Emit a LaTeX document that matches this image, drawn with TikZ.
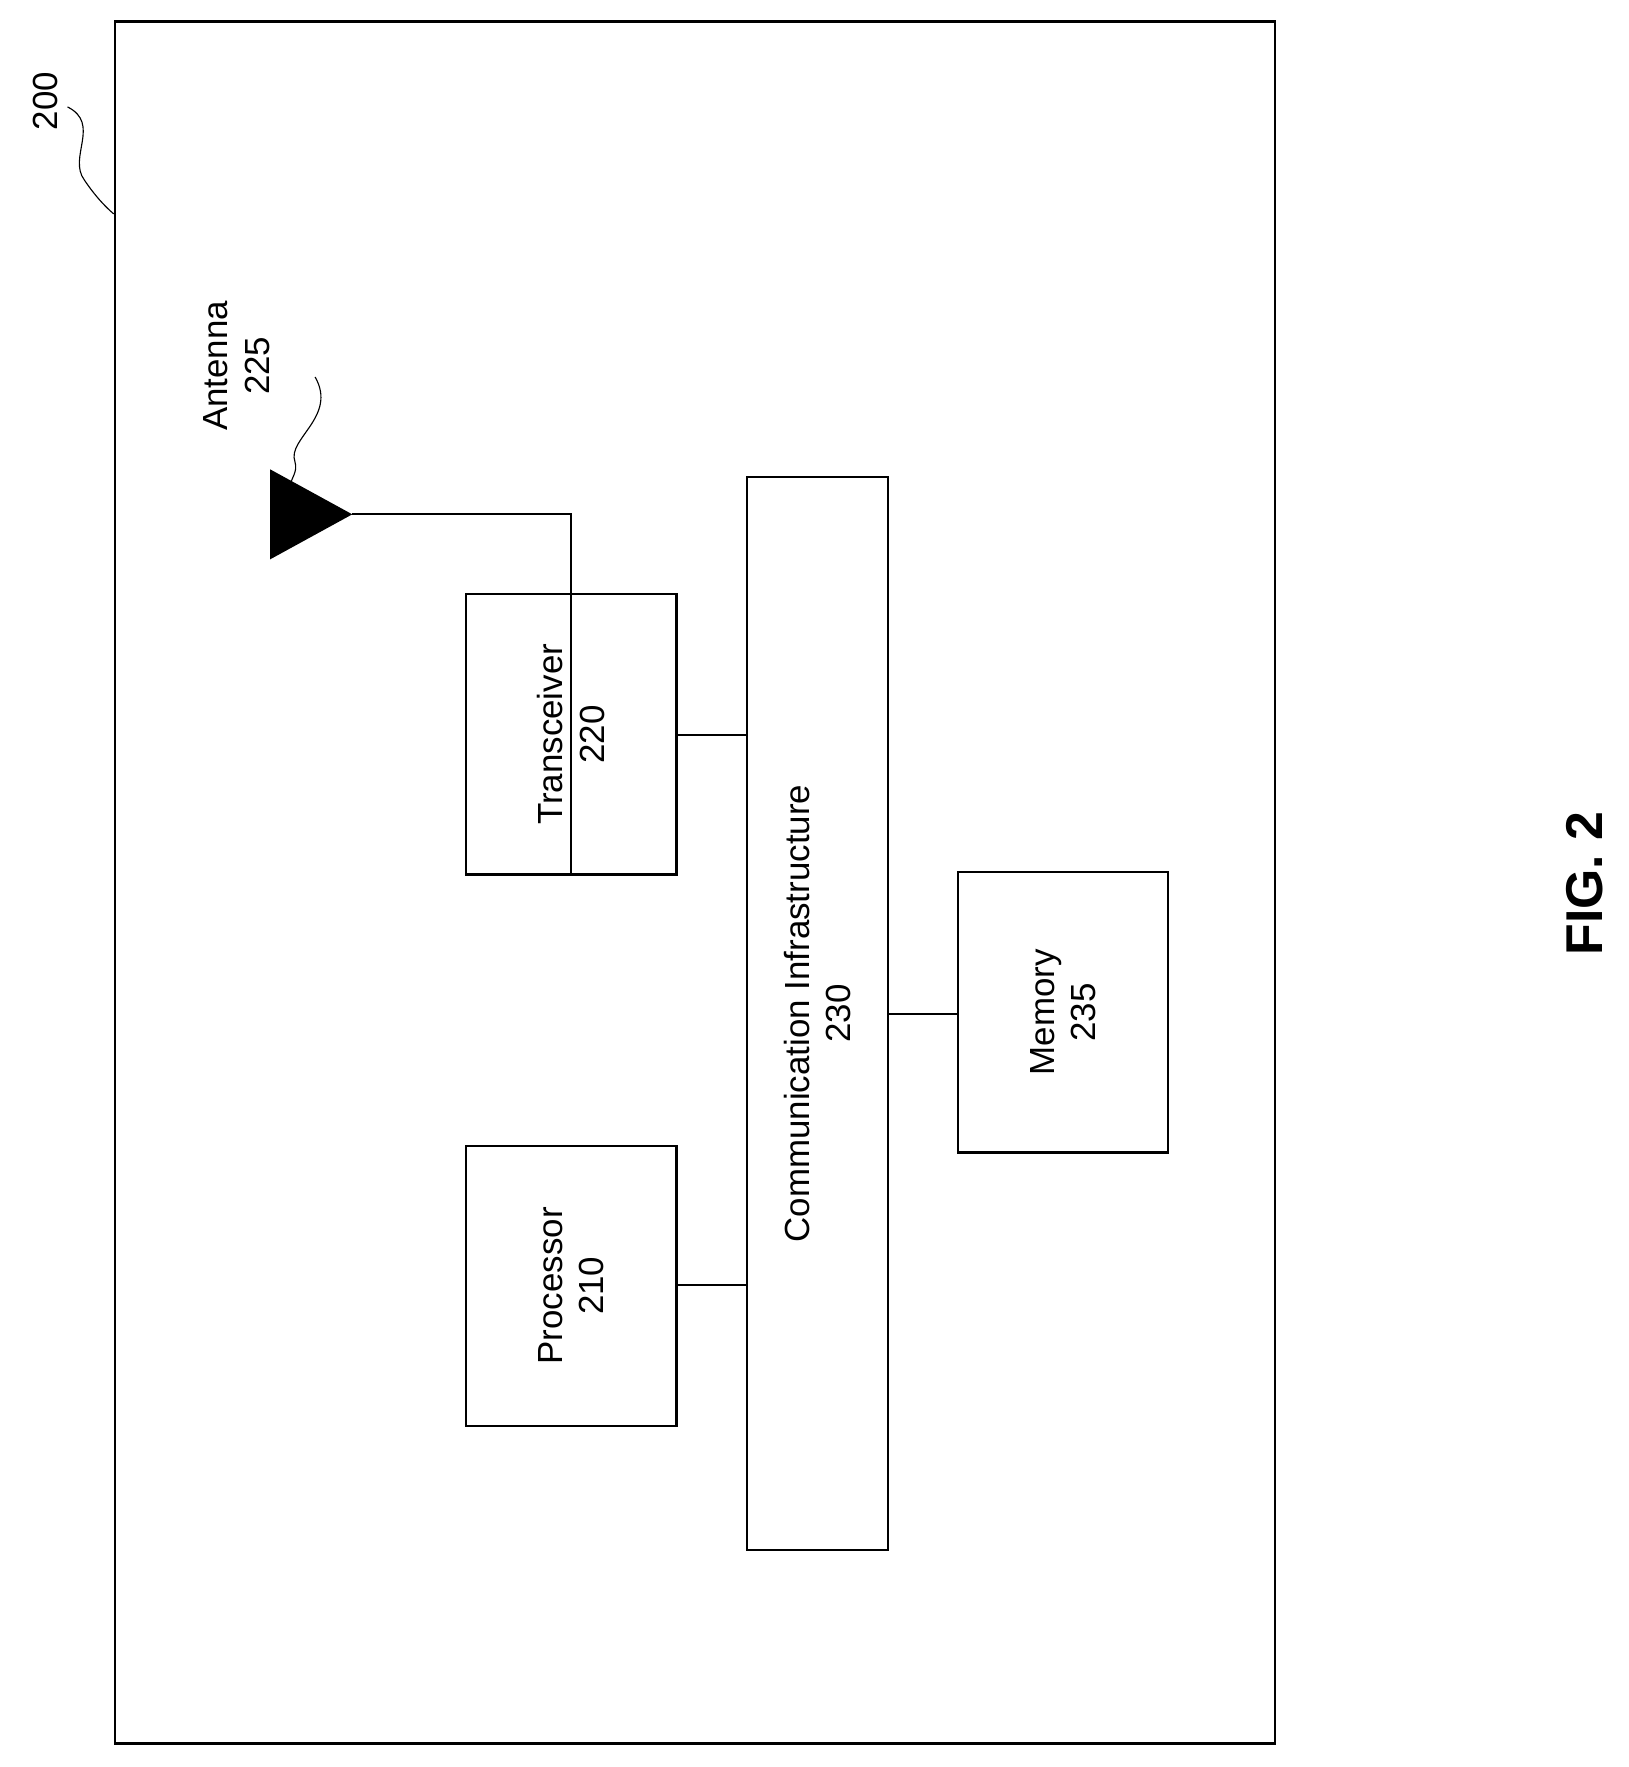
\documentclass[tikz,border=0pt]{standalone}
\usepackage{fontspec}
\setmainfont{Liberation Sans}
\begin{document}
\begin{tikzpicture}[x=1pt,y=-1pt,line width=2pt,
    block/.style={draw, rotate=90, align=center, font=\fontsize{31}{37}\selectfont, inner sep=0pt},
    lbl/.style={rotate=90, align=center, font=\fontsize{31}{37}\selectfont}]
    \useasboundingbox (0,0) rectangle (1447,1570);
    % Frame
    \node [draw, minimum width=1031pt, minimum height=1530pt, inner sep=0pt, anchor=north west] (dev) at (101,18) {};
    \node [lbl] (ref) at (40,90) {200};
    \coordinate (refend) at (101,190);
    \draw [line width=1pt] (60,95) .. controls (90,110) and (60,140) .. (75,160) .. controls (85,175) and (95,185) .. (refend);

    % Blocks
    \node [block, minimum width=249pt, minimum height=187pt] (trx) at (507.5,652.5) {Transceiver\\220};
    \node [block, minimum width=953pt, minimum height=125pt] (comm) at (726.5,900.5) {Communication Infrastructure\\230};
    \node [block, minimum width=249pt, minimum height=187pt] (mem) at (944.5,899.5) {Memory\\235};
    \node [block, minimum width=249pt, minimum height=187pt] (cpu) at (507.5,1142.5) {Processor\\210};

    % Antenna
    \fill (240,417) -- (240,497) -- (313,457) coordinate (ant) -- cycle;
    \node [lbl] (antlbl) at (210,325) {Antenna\\225};
    \draw [line width=1pt] (280,335) .. controls (300,370) and (255,390) .. (262,410) .. controls (265,420) and (258,425) .. (258,432);

    % Connectors
    \draw (ant) -| (trx.west);
    \draw (trx.south |- 0,653) -- (comm.north |- 0,653);
    \draw (comm.south |- 0,901) -- (mem.north |- 0,901);
    \draw (cpu.south |- 0,1142) -- (comm.north |- 0,1142);

    \node [rotate=90, font=\fontsize{46}{50}\selectfont\bfseries] (fig) at (1408,785) {FIG. 2};
\end{tikzpicture}
\end{document}
